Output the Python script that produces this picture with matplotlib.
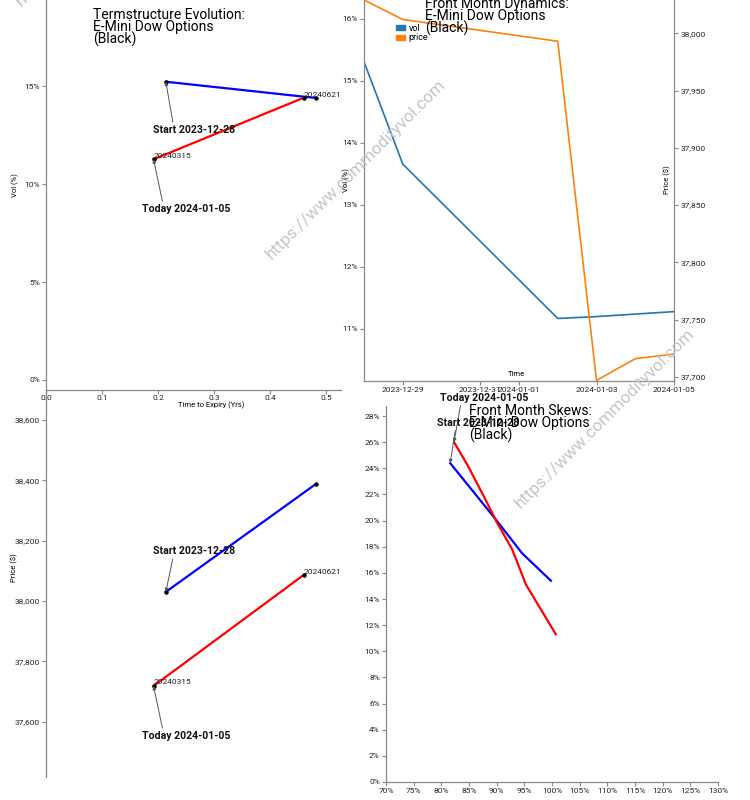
import matplotlib.pyplot as plt
import matplotlib.dates as mdates
from matplotlib.patches import Patch
from matplotlib.ticker import FuncFormatter, MultipleLocator
import pandas as pd

plt.rcParams['font.family'] = ['Roboto', 'DejaVu Sans']

W, H = 750, 800

# term structure: two futures expiries, at the start date and today
expiries = ['20240315', '20240621']
start_tte = [0.214, 0.482]
start_vol = [15.22, 14.39]
start_fut = [38030, 38388]
today_tte = [0.192, 0.460]
today_vol = [11.26, 14.40]
today_fut = [37718, 38086]

# front month dynamics
dyn_dates = pd.to_datetime(['2023-12-28', '2023-12-29', '2024-01-02',
                            '2024-01-03', '2024-01-04', '2024-01-05'])
dyn_vol = [15.31, 13.66, 11.17, 11.20, 11.24, 11.28]
dyn_price = [38029, 38012, 37993, 37697, 37716, 37720]
dyn_ticks = pd.to_datetime(['2023-12-29', '2023-12-31', '2024-01-01',
                            '2024-01-03', '2024-01-05'])

# front month skews (moneyness %, vol %)
skew_start_m = [81.6, 86.0, 90.0, 94.6, 99.8]
skew_start_v = [24.4, 22.1, 20.0, 17.5, 15.4]
skew_today_m = [82.3, 84.8, 87.5, 90.0, 92.8, 95.3, 100.7]
skew_today_v = [26.0, 24.2, 22.0, 19.9, 17.8, 15.1, 11.3]

start_lbl = 'Start 2023-12-28'
today_lbl = 'Today 2024-01-05'


def box(x0, y0, x1, y1):
    return [x0 / W, 1 - y1 / H, (x1 - x0) / W, (y1 - y0) / H]


def fpos(x, y):
    return x / W, 1 - y / H


def style(ax, sides):
    for s in ax.spines:
        ax.spines[s].set_visible(s in sides)
        ax.spines[s].set_color('#888888')
        ax.spines[s].set_linewidth(0.9)
    ax.tick_params(colors='#888888', labelcolor='#222222', labelsize=6,
                   length=3, width=0.8, pad=1.5)
    ax.set_facecolor('none')


pct = FuncFormatter(lambda v, p: f'{v:.0f}%')
comma = FuncFormatter(lambda v, p: f'{v:,.0f}')
arrow = dict(arrowstyle='-|>', color='#555555', lw=0.7, mutation_scale=5,
             shrinkA=0, shrinkB=0)
bold = dict(fontsize=7.6, fontweight='bold', ha='center', va='center', color='#111111')
title_kw = dict(fontsize=10, linespacing=0.8, ha='left', va='top')

fig = plt.figure(figsize=(W / 100, H / 100), dpi=100)

# watermarks
for cx, cy in [(106, -84), (356, 169), (605, 418)]:
    fig.text(*fpos(cx, cy), 'https://www.commodityvol.com', rotation=45,
             rotation_mode='anchor', ha='center', va='center', fontsize=12.3,
             color='#c4c4c4', zorder=0)

# --- top-left: term structure vols
ax1 = fig.add_axes(box(46, 0, 341, 380))
style(ax1, ['left', 'bottom'])
ax1.spines['bottom'].set_position(('outward', 7.2))
ax1.tick_params(axis='x', pad=0.3)
ax1.plot(start_tte, start_vol, color='blue', lw=1.6, marker='o', ms=2.2,
         mfc='black', mec='black')
ax1.plot(today_tte, today_vol, color='red', lw=1.6, marker='o', ms=2.2,
         mfc='black', mec='black')
for t, v, e in zip(today_tte, today_vol, expiries):
    ax1.text(t, v + 0.05, e, fontsize=6, color='#222222', va='baseline')
ax1.annotate(start_lbl, xy=(start_tte[0], start_vol[0]), xytext=(0.264, 12.76),
             arrowprops=dict(arrow, relpos=(0.25, 1)), **bold)
ax1.annotate(today_lbl, xy=(today_tte[0], today_vol[0]), xytext=(0.250, 8.72),
             arrowprops=dict(arrow, relpos=(0.24, 1)), **bold)
ax1.set_xlim(0, 0.5268)
ax1.set_ylim(0, 19.39)
ax1.xaxis.set_major_locator(MultipleLocator(0.1))
ax1.xaxis.set_major_formatter(FuncFormatter(lambda v, p: f'{v:.1f}'))
ax1.yaxis.set_major_locator(MultipleLocator(5))
ax1.yaxis.set_major_formatter(pct)
fig.text(*fpos(15, 185), 'Vol (%)', rotation=90, fontsize=5.5, ha='center', va='center')
fig.text(*fpos(211, 405), 'Time to Expiry (Yrs)', fontsize=5.5, ha='center', va='center')
fig.text(*fpos(93, 8), 'Termstructure Evolution:\nE-Mini Dow Options\n(Black)', **title_kw)

# --- top-right: front month dynamics
ax2 = fig.add_axes(box(364, 0, 674, 381))
style(ax2, ['left', 'bottom'])
ax2.plot(dyn_dates, dyn_vol, color='#1f77b4', lw=1.2)
ax2.set_ylim(10.161, 16.306)
ax2.set_xlim(pd.Timestamp('2023-12-28'), pd.Timestamp('2024-01-05'))
ax2.set_xticks(dyn_ticks)
ax2.xaxis.set_major_formatter(mdates.DateFormatter('%Y-%m-%d'))
ax2.yaxis.set_major_locator(MultipleLocator(1))
ax2.yaxis.set_major_formatter(pct)
ax2b = ax2.twinx()
style(ax2b, ['right'])
ax2b.plot(dyn_dates, dyn_price, color='#ff7f0e', lw=1.2)
ax2b.set_ylim(37696.5, 38029)
ax2b.yaxis.set_major_locator(MultipleLocator(50))
ax2b.yaxis.set_major_formatter(comma)
fig.text(*fpos(346, 180), 'Vol (%)', rotation=90, fontsize=5.5, ha='center', va='center')
fig.text(*fpos(667, 180), 'Price ($)', rotation=90, fontsize=5.5, ha='center', va='center')
fig.text(*fpos(516, 374), 'Time', fontsize=5.5, ha='center', va='center')
fig.legend(handles=[Patch(color='#1f77b4', label='vol'), Patch(color='#ff7f0e', label='price')],
           loc='upper left', bbox_to_anchor=fpos(396, 24), frameon=False, fontsize=6.5,
           handlelength=1.0, handleheight=0.45, handletextpad=0.4, labelspacing=0.05,
           borderpad=0, borderaxespad=0)
fig.text(*fpos(425, -3), 'Front Month Dynamics:\nE-Mini Dow Options\n(Black)', **title_kw)

# --- bottom-left: term structure prices
ax3 = fig.add_axes(box(46, 380, 341, 777))
style(ax3, ['left'])
ax3.tick_params(axis='x', bottom=False, labelbottom=False)
ax3.plot(start_tte, start_fut, color='blue', lw=1.6, marker='o', ms=2.2,
         mfc='black', mec='black')
ax3.plot(today_tte, today_fut, color='red', lw=1.6, marker='o', ms=2.2,
         mfc='black', mec='black')
for t, v, e in zip(today_tte, today_fut, expiries):
    ax3.text(t, v + 5, e, fontsize=6, color='#222222', va='baseline')
ax3.annotate(start_lbl, xy=(start_tte[0], start_fut[0]), xytext=(0.264, 38165),
             arrowprops=dict(arrow, relpos=(0.25, 0)), **bold)
ax3.annotate(today_lbl, xy=(today_tte[0], today_fut[0]), xytext=(0.250, 37552),
             arrowprops=dict(arrow, relpos=(0.24, 1)), **bold)
ax3.set_xlim(0, 0.5268)
ax3.set_ylim(37416, 38733)
ax3.yaxis.set_major_locator(MultipleLocator(200))
ax3.yaxis.set_major_formatter(comma)
fig.text(*fpos(14, 568), 'Price ($)', rotation=90, fontsize=5.5, ha='center', va='center')

# --- bottom-right: front month skews
ax4 = fig.add_axes(box(386, 406, 718, 782))
style(ax4, ['left', 'bottom'])
ax4.plot(skew_start_m, skew_start_v, color='blue', lw=1.6)
ax4.plot(skew_today_m, skew_today_v, color='red', lw=1.6)
ax4.annotate(today_lbl, xy=(skew_today_m[0], skew_today_v[0]), xytext=(87.7, 29.4),
             arrowprops=dict(arrow, relpos=(0.24, 0)), **bold)
ax4.annotate(start_lbl, xy=(skew_start_m[0], skew_start_v[0]), xytext=(86.6, 27.5),
             arrowprops=dict(arrow, relpos=(0.23, 0)), **bold)
ax4.set_xlim(70, 130)
ax4.set_ylim(0, 28.77)
ax4.xaxis.set_major_locator(MultipleLocator(5))
ax4.xaxis.set_major_formatter(pct)
ax4.yaxis.set_major_locator(MultipleLocator(2))
ax4.yaxis.set_major_formatter(pct)
fig.text(*fpos(469, 404), 'Front Month Skews:\nE-Mini Dow Options\n(Black)', **title_kw)

fig.savefig('out.png', dpi=100)
